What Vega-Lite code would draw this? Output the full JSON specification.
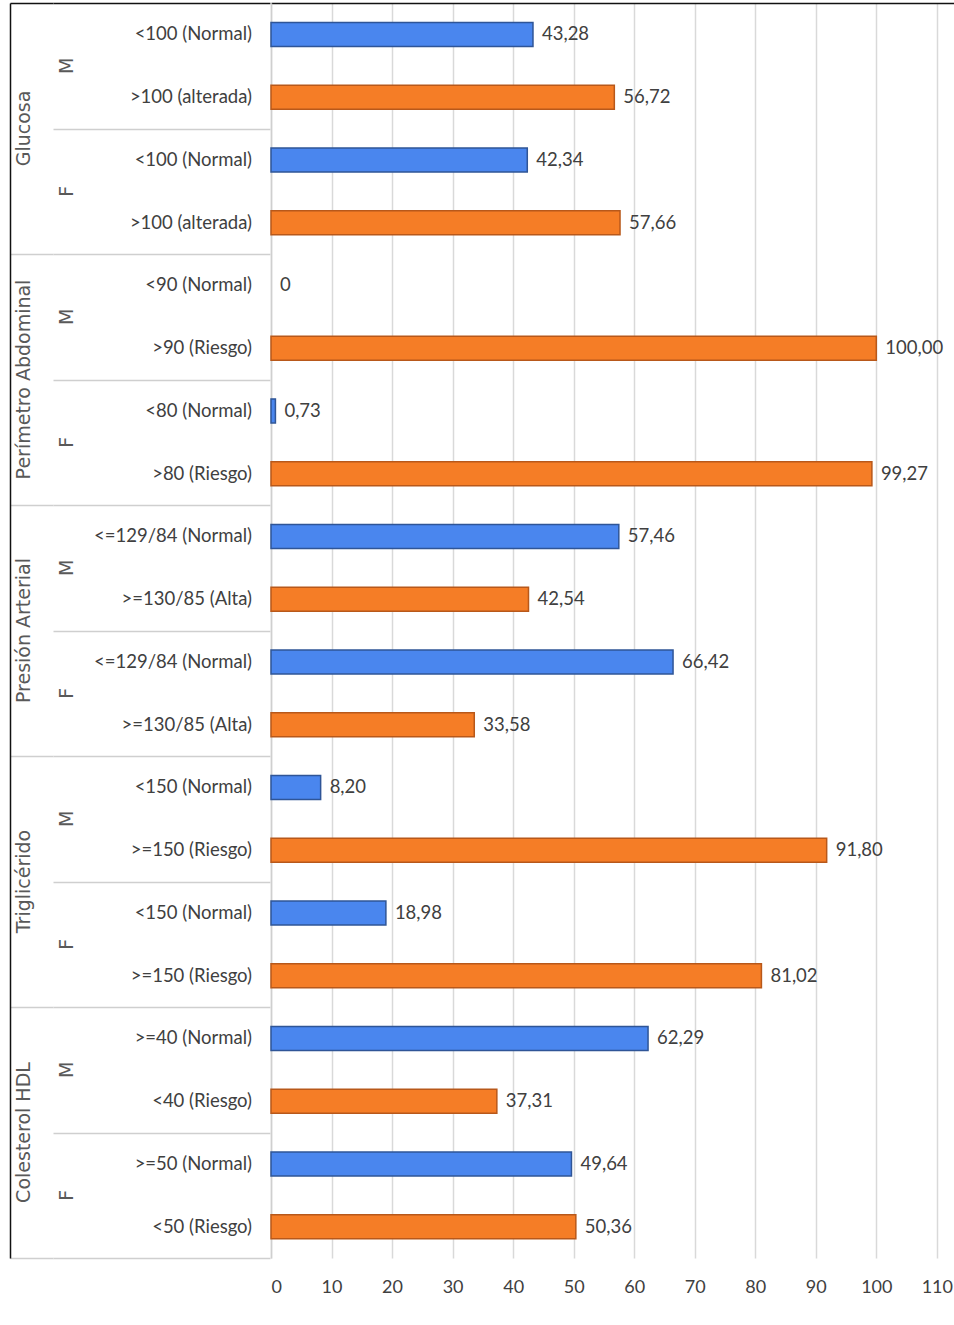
{
  "$schema": "https://vega.github.io/schema/vega-lite/v6.json",
  "padding": {"left": 10, "top": 3, "right": 0, "bottom": 0},
  "background": "white",
  "spacing": 0,
  "datasets": {
    "d": [
      {"grupo": "Glucosa", "sexo": "M", "cat": "<100 (Normal)", "tipo": "Normal", "valor": 43.28},
      {"grupo": "Glucosa", "sexo": "M", "cat": ">100 (alterada)", "tipo": "Riesgo", "valor": 56.72},
      {"grupo": "Glucosa", "sexo": "F", "cat": "<100 (Normal)", "tipo": "Normal", "valor": 42.34},
      {"grupo": "Glucosa", "sexo": "F", "cat": ">100 (alterada)", "tipo": "Riesgo", "valor": 57.66},
      {"grupo": "Perímetro Abdominal", "sexo": "M", "cat": "<90 (Normal)", "tipo": "Normal", "valor": 0},
      {"grupo": "Perímetro Abdominal", "sexo": "M", "cat": ">90 (Riesgo)", "tipo": "Riesgo", "valor": 100.00},
      {"grupo": "Perímetro Abdominal", "sexo": "F", "cat": "<80 (Normal)", "tipo": "Normal", "valor": 0.73},
      {"grupo": "Perímetro Abdominal", "sexo": "F", "cat": ">80 (Riesgo)", "tipo": "Riesgo", "valor": 99.27},
      {"grupo": "Presión Arterial", "sexo": "M", "cat": "<=129/84 (Normal)", "tipo": "Normal", "valor": 57.46},
      {"grupo": "Presión Arterial", "sexo": "M", "cat": ">=130/85 (Alta)", "tipo": "Riesgo", "valor": 42.54},
      {"grupo": "Presión Arterial", "sexo": "F", "cat": "<=129/84 (Normal)", "tipo": "Normal", "valor": 66.42},
      {"grupo": "Presión Arterial", "sexo": "F", "cat": ">=130/85 (Alta)", "tipo": "Riesgo", "valor": 33.58},
      {"grupo": "Triglicérido", "sexo": "M", "cat": "<150 (Normal)", "tipo": "Normal", "valor": 8.20},
      {"grupo": "Triglicérido", "sexo": "M", "cat": ">=150 (Riesgo)", "tipo": "Riesgo", "valor": 91.80},
      {"grupo": "Triglicérido", "sexo": "F", "cat": "<150 (Normal)", "tipo": "Normal", "valor": 18.98},
      {"grupo": "Triglicérido", "sexo": "F", "cat": ">=150 (Riesgo)", "tipo": "Riesgo", "valor": 81.02},
      {"grupo": "Colesterol HDL", "sexo": "M", "cat": ">=40 (Normal)", "tipo": "Normal", "valor": 62.29},
      {"grupo": "Colesterol HDL", "sexo": "M", "cat": "<40 (Riesgo)", "tipo": "Riesgo", "valor": 37.31},
      {"grupo": "Colesterol HDL", "sexo": "F", "cat": ">=50 (Normal)", "tipo": "Normal", "valor": 49.64},
      {"grupo": "Colesterol HDL", "sexo": "F", "cat": "<50 (Riesgo)", "tipo": "Riesgo", "valor": 50.36}
    ]
  },
  "hconcat": [
    {
      "width": 43,
      "height": 1255,
      "data": {"name": "d"},
      "transform": [{"aggregate": [{"op": "count", "as": "n"}], "groupby": ["grupo"]}],
      "mark": {"type": "text", "angle": 270, "font": "DejaVu Sans", "fontSize": 19, "color": "#595959", "dy": -8},
      "encoding": {
        "y": {
          "field": "grupo", "type": "nominal", "sort": null,
          "scale": {"type": "band", "padding": 0},
          "axis": {
            "title": null, "labels": false, "ticks": false,
            "domain": true, "domainColor": "#111111", "domainWidth": 1.5,
            "grid": true, "tickBand": "extent", "gridWidth": 1.5,
            "gridColor": {"condition": {"test": "!isString(datum.value)", "value": "#111111"}, "value": "#cfcfcf"}
          }
        },
        "text": {"field": "grupo"}
      }
    },
    {
      "width": 217,
      "height": 1255,
      "data": {"name": "d"},
      "layer": [
        {
          "transform": [
            {"aggregate": [{"op": "count", "as": "n"}], "groupby": ["grupo", "sexo"]},
            {"calculate": "datum.grupo + '|' + datum.sexo", "as": "gs"}
          ],
          "mark": {"type": "text", "angle": 270, "font": "DejaVu Sans", "fontSize": 19, "color": "#595959", "dy": -94.5},
          "encoding": {
            "y": {
              "field": "gs", "type": "nominal", "sort": null,
              "scale": {"type": "band", "padding": 0},
              "axis": {
                "title": null, "labels": false, "ticks": false, "domain": false,
                "grid": true, "tickBand": "extent", "gridWidth": 1.5,
                "gridColor": {"condition": {"test": "!isString(datum.value)", "value": "#111111"}, "value": "#cfcfcf"}
              }
            },
            "text": {"field": "sexo"}
          }
        },
        {
          "transform": [{"calculate": "datum.grupo + '|' + datum.sexo + '|' + datum.cat", "as": "key"}],
          "mark": {"type": "text", "align": "right", "baseline": "middle", "x": "width", "dx": -18, "font": "Lato", "fontSize": 18.5, "color": "#404040"},
          "encoding": {
            "y": {"field": "key", "type": "nominal", "sort": null, "scale": {"type": "band", "padding": 0}, "axis": null},
            "text": {"field": "cat"}
          }
        }
      ],
      "resolve": {"scale": {"y": "independent"}}
    },
    {
      "width": 684,
      "height": 1255,
      "data": {"name": "d"},
      "transform": [
        {"calculate": "datum.grupo + '|' + datum.sexo + '|' + datum.cat", "as": "key"},
        {"calculate": "datum.valor === 0 ? '0' : replace(format(datum.valor, '.2f'), '.', ',')", "as": "lbl"}
      ],
      "encoding": {
        "y": {
          "field": "key", "type": "nominal", "sort": null,
          "scale": {"type": "band", "padding": 0},
          "axis": {"title": null, "labels": false, "ticks": false, "grid": false, "domain": true, "domainColor": "#cfcfcf", "domainWidth": 1.5}
        }
      },
      "layer": [
        {
          "mark": {"type": "bar", "size": 24, "strokeWidth": 1.5},
          "encoding": {
            "x": {
              "field": "valor", "type": "quantitative",
              "scale": {"domain": [0, 113], "nice": false, "zero": true},
              "axis": {
                "title": null, "values": [0, 10, 20, 30, 40, 50, 60, 70, 80, 90, 100, 110],
                "grid": true, "gridColor": "#d9d9d9", "gridWidth": 1.5,
                "domain": false, "ticks": false, "labelPadding": 20,
                "labelFont": "Lato", "labelFontSize": 18, "labelColor": "#404040"
              }
            },
            "color": {"field": "tipo", "type": "nominal", "scale": {"domain": ["Normal", "Riesgo"], "range": ["#4a86ee", "#f57d26"]}, "legend": null},
            "stroke": {"field": "tipo", "type": "nominal", "scale": {"domain": ["Normal", "Riesgo"], "range": ["#2f5597", "#b8581a"]}, "legend": null},
            "strokeWidth": {"condition": {"test": "datum.valor === 0", "value": 0}, "value": 1.5}
          }
        },
        {
          "mark": {"type": "text", "align": "left", "baseline": "middle", "dx": 9, "font": "Lato", "fontSize": 18.5, "color": "#404040"},
          "encoding": {
            "x": {
              "field": "valor", "type": "quantitative",
              "axis": {"orient": "top", "title": null, "labels": false, "ticks": false, "grid": false, "domain": true, "domainColor": "#111111", "domainWidth": 1.5}
            },
            "text": {"field": "lbl"}
          }
        }
      ],
      "resolve": {"axis": {"x": "independent"}}
    }
  ],
  "config": {
    "view": {"stroke": null},
    "concat": {"spacing": 0}
  }
}
